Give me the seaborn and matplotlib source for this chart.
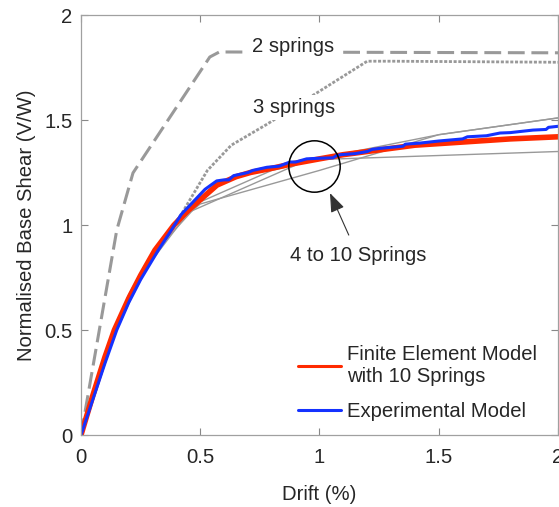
import matplotlib
matplotlib.use("Agg")
import matplotlib.pyplot as plt
import seaborn as sns
from matplotlib.lines import Line2D

# ---- data ----
fe_drift = [0, 0.05, 0.1, 0.14, 0.2, 0.25, 0.31, 0.35, 0.39, 0.45, 0.5, 0.57, 0.65, 0.71,
            0.8, 0.88, 1.0, 1.1, 1.2, 1.4, 1.6, 1.8, 2.0]
fe_shear = [0, 0.19, 0.37, 0.5, 0.65, 0.76, 0.88, 0.94, 1.0, 1.07, 1.12, 1.19, 1.23, 1.25,
            1.27, 1.29, 1.315, 1.335, 1.35, 1.38, 1.395, 1.41, 1.42]

exp_drift = [0, 0.05, 0.1, 0.15, 0.2, 0.25, 0.324, 0.37, 0.42, 0.47, 0.52, 0.569, 0.6, 0.62,
             0.64, 0.7, 0.72, 0.78, 0.83, 0.876, 0.9, 0.946, 1.0, 1.057, 1.07, 1.09, 1.15,
             1.2, 1.22, 1.254, 1.3, 1.35, 1.36, 1.421, 1.5, 1.6, 1.62, 1.7, 1.757, 1.8,
             1.895, 1.95, 1.96, 2.0]
exp_shear = [0, 0.17, 0.34, 0.5, 0.63, 0.74, 0.88, 0.96, 1.05, 1.11, 1.17, 1.21, 1.215, 1.215,
             1.235, 1.25, 1.26, 1.275, 1.28, 1.30, 1.30, 1.315, 1.318, 1.32, 1.33, 1.335, 1.34,
             1.35, 1.36, 1.365, 1.37, 1.375, 1.385, 1.39, 1.40, 1.41, 1.42, 1.425, 1.438, 1.44,
             1.452, 1.455, 1.465, 1.47]

two_drift = [0, 0.15, 0.218, 0.54, 0.58, 2.0]
two_shear = [0, 0.976, 1.248, 1.80, 1.824, 1.82]

three_drift = [0, 0.15, 0.3, 0.42, 0.53, 0.63, 0.78, 1.2, 1.3, 2.0]
three_shear = [0, 0.52, 0.86, 1.05, 1.26, 1.38, 1.48, 1.78, 1.78, 1.775]

# 4 to 10 springs (thin grey)
g1_drift = [0, 0.1, 0.2, 0.3, 0.4, 0.5, 1.0, 1.5, 2.0]
g1_shear = [0, 0.38, 0.67, 0.87, 1.01, 1.10, 1.26, 1.43, 1.51]
g2_drift = [0, 0.12, 0.25, 0.45, 0.95, 2.0]
g2_shear = [0, 0.44, 0.76, 1.06, 1.31, 1.35]
g3_drift = [0, 0.15, 0.3, 0.5, 0.8, 1.1, 1.5, 2.0]
g3_shear = [0, 0.53, 0.86, 1.11, 1.26, 1.34, 1.43, 1.51]

ticks = [0, 0.5, 1, 1.5, 2]
tick_labels = ["0", "0.5", "1", "1.5", "2"]

RED = "#ff2a00"
BLUE = "#1432ff"
GREY = "#999999"
FS = 14.6

sns.set_style("ticks")
plt.rcParams["font.family"] = ["Liberation Sans", "DejaVu Sans"]
plt.rcParams["font.size"] = FS

fig = plt.figure(figsize=(5.59, 5.07), dpi=100)
ax = fig.add_axes([0.1449, 0.142, 0.8533, 0.8284])

for gx, gy in [(g1_drift, g1_shear), (g2_drift, g2_shear), (g3_drift, g3_shear)]:
    sns.lineplot(x=gx, y=gy, ax=ax, color=GREY, lw=1.0, estimator=None, sort=False)

sns.lineplot(x=two_drift, y=two_shear, ax=ax, color=GREY, lw=2.2,
             linestyle=(0, (5.5, 2.2)), estimator=None, sort=False)
sns.lineplot(x=three_drift, y=three_shear, ax=ax, color=GREY, lw=2.0,
             linestyle=(0, (1.1, 0.6)), estimator=None, sort=False)

sns.lineplot(x=fe_drift, y=fe_shear, ax=ax, color=RED, lw=4.0, estimator=None, sort=False)
sns.lineplot(x=exp_drift, y=exp_shear, ax=ax, color=BLUE, lw=2.2, estimator=None, sort=False)

ax.text(0.717, 1.85, "2 springs", ha="left", va="center", fontsize=FS,
        bbox=dict(facecolor="white", edgecolor="none", pad=2))
ax.text(0.72, 1.56, "3 springs", ha="left", va="center", fontsize=FS,
        bbox=dict(facecolor="white", edgecolor="none", pad=2))

# circle + arrow annotation
ax.plot([0.975], [1.281], marker="o", ms=37, mfc="none", mec="black", mew=1.1)
ax.annotate("4 to 10 Springs", xy=(1.044, 1.152), xytext=(1.161, 0.855),
            ha="center", va="center", fontsize=FS,
            arrowprops=dict(arrowstyle="-|>,head_length=0.8,head_width=0.3",
                            color="#333333", lw=0.8, shrinkA=6, shrinkB=0))

ax.set_xlim(0, 2)
ax.set_ylim(0, 2)
ax.set_xticks(ticks)
ax.set_xticklabels(tick_labels)
ax.set_yticks(ticks)
ax.set_yticklabels(tick_labels)
ax.tick_params(axis="both", direction="in", top=True, right=True, length=5, width=0.8,
               color="#888888", labelcolor="#262626", labelsize=FS)
ax.tick_params(axis="x", pad=9)
ax.tick_params(axis="y", pad=6)
for s in ax.spines.values():
    s.set_color("#a0a0a0")
    s.set_linewidth(0.9)

ax.set_xlabel("Drift (%)", fontsize=FS, color="#262626", labelpad=13)
ax.set_ylabel("Normalised Base Shear (V/W)", fontsize=FS, color="#262626", labelpad=6)

handles = [Line2D([], [], color=RED, lw=2.2), Line2D([], [], color=BLUE, lw=2.2)]
leg = ax.legend(handles, ["Finite Element Model\nwith 10 Springs", "Experimental Model"],
                loc="lower right", bbox_to_anchor=(0.985, 0), frameon=False, fontsize=FS,
                handlelength=2.1, handletextpad=0.3, borderaxespad=0.3, labelspacing=0.8)
for t in leg.get_texts():
    t.set_linespacing(1.15)

fig.savefig("out.png", dpi=100)
